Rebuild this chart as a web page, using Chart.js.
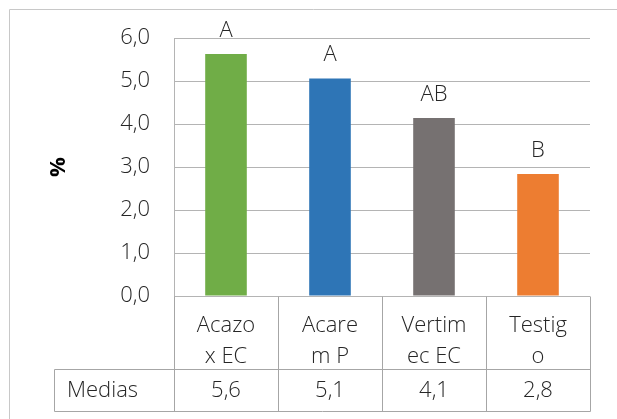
<!DOCTYPE html>
<html>
<head>
<meta charset="utf-8">
<script src="https://cdn.jsdelivr.net/npm/chart.js@4/dist/chart.umd.min.js"></script>
<style>
  html, body { margin: 0; padding: 0; background: #ffffff; }
  #wrap { width: 617px; height: 419px; }
</style>
</head>
<body>
<div id="wrap"><canvas id="chart" width="617" height="419"></canvas></div>
<script>
// Treatment names (wrapped as in the table cells)
const categories = [["Acazo", "x EC"], ["Acare", "m P"], ["Vertim", "ec EC"], ["Testig", "o"]];
// Mean values (%) per treatment
const medias = [5.63, 5.06, 4.14, 2.84];
// Significance groups shown above the bars
const groups = ["A", "A", "AB", "B"];
const barColors = ["#70AD47", "#2E75B6", "#767171", "#ED7D31"];
// Value axis range
const yMin = 0;
const yMax = 6;
const yStep = 1;
const axisTitle = "%";
const rowLabel = "Medias";

const FONT = "'Open Sans', 'Noto Sans', sans-serif";
const TEXT = "#262626";
const GRID = "#B4B4B4";
const TABLE = "#A6A6A6";

const fmt = v => v.toFixed(1).replace(".", ",");

const tablePlugin = {
  id: "dataTable",
  beforeDraw(chart) {
    const ctx = chart.ctx;
    ctx.save();
    ctx.strokeStyle = "#C8C8C8";
    ctx.lineWidth = 1;
    ctx.beginPath();
    ctx.moveTo(9.5, chart.height + 5);
    ctx.lineTo(9.5, 9.5);
    ctx.lineTo(chart.width + 5, 9.5);
    ctx.stroke();
    ctx.restore();
  },
  afterDraw(chart) {
    const { ctx, chartArea } = chart;
    const x = chart.scales.x;
    const n = categories.length;
    const step = x.getPixelForValue(1) - x.getPixelForValue(0);
    const left = Math.round(x.getPixelForValue(0) - step / 2) + 0.5;
    const right = Math.round(x.getPixelForValue(n - 1) + step / 2) + 0.5;
    const axisY = Math.round(chartArea.bottom) + 0.5;
    const rowTop = axisY + 73;
    const rowBottom = rowTop + 42;
    const labelLeft = 54.5;

    ctx.save();
    ctx.strokeStyle = TABLE;
    ctx.lineWidth = 1;
    ctx.beginPath();
    // category dividers and right edge
    for (let i = 1; i <= n; i++) {
      const bx = Math.round(x.getPixelForValue(i - 1) + step / 2) + 0.5;
      ctx.moveTo(bx, axisY);
      ctx.lineTo(bx, rowBottom);
    }
    // left edge of the category columns
    ctx.moveTo(left, axisY);
    ctx.lineTo(left, rowBottom);
    // value row box
    ctx.moveTo(labelLeft, rowTop);
    ctx.lineTo(right, rowTop);
    ctx.moveTo(labelLeft, rowBottom);
    ctx.lineTo(right, rowBottom);
    ctx.moveTo(labelLeft, rowTop);
    ctx.lineTo(labelLeft, rowBottom);
    ctx.stroke();

    // row texts
    ctx.fillStyle = TEXT;
    ctx.font = "300 22px " + FONT;
    ctx.textBaseline = "middle";
    const cy = (rowTop + rowBottom) / 2;
    ctx.textAlign = "left";
    ctx.fillText(rowLabel, labelLeft + 12.5, cy);
    ctx.textAlign = "center";
    medias.forEach((v, i) => {
      ctx.fillText(fmt(v), x.getPixelForValue(i), cy);
    });

    // significance letters above bars
    const meta = chart.getDatasetMeta(0);
    ctx.textBaseline = "alphabetic";
    meta.data.forEach((bar, i) => {
      ctx.fillText(groups[i], bar.x, bar.y - 17);
    });
    ctx.restore();
  }
};

new Chart(document.getElementById("chart"), {
  type: "bar",
  data: {
    labels: categories,
    datasets: [{
      data: medias,
      backgroundColor: barColors,
      borderWidth: 0,
      barPercentage: 0.4,
      categoryPercentage: 1.0
    }]
  },
  options: {
    responsive: false,
    animation: false,
    devicePixelRatio: 1,
    layout: { padding: { top: 38, right: 27, bottom: 0, left: 0 } },
    plugins: {
      legend: { display: false },
      tooltip: { enabled: false }
    },
    scales: {
      x: {
        grid: { display: false },
        border: { display: false },
        ticks: {
          color: TEXT,
          font: { family: FONT, size: 22, weight: 300, lineHeight: "31px" },
          padding: 6,
          maxRotation: 0,
          autoSkip: false
        },
        afterFit(scale) { scale.height = 123; }
      },
      y: {
        min: yMin,
        max: yMax,
        grid: { color: GRID, lineWidth: 1, drawTicks: false },
        border: { display: true, color: GRID, width: 1 },
        ticks: {
          stepSize: yStep,
          color: TEXT,
          padding: 24,
          font: { family: FONT, size: 22, weight: 300 },
          callback: v => fmt(v)
        },
        title: {
          display: true,
          text: axisTitle,
          color: "#000000",
          font: { family: FONT, size: 22, weight: "bold", lineHeight: 1.2 },
          padding: { top: 46, bottom: 0 }
        },
        afterFit(scale) { scale.width = 174; }
      }
    }
  },
  plugins: [tablePlugin]
});
</script>
</body>
</html>
